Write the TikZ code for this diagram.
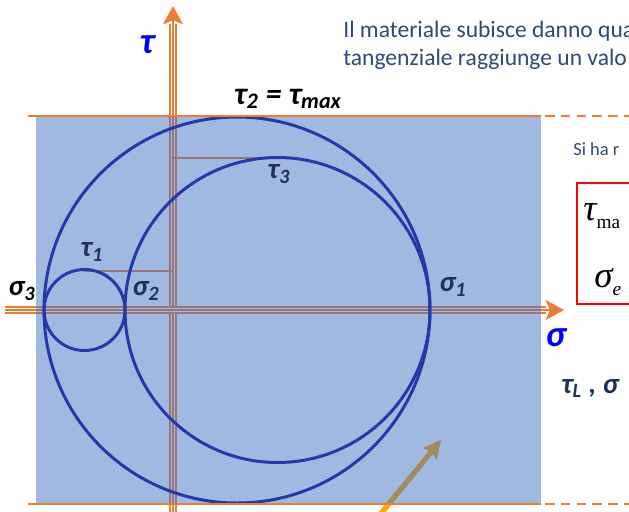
\documentclass[tikz,border=0pt]{standalone}
\usepackage{fontspec}
\setmainfont{Carlito}
\newfontfamily\timesfont{Liberation Serif}
\usetikzlibrary{arrows.meta}
\definecolor{axisorange}{RGB}{237,125,49}
\definecolor{planeblue}{RGB}{68,114,196}
\definecolor{circleblue}{RGB}{36,56,168}
\definecolor{labelnavy}{RGB}{31,50,90}
\definecolor{textslate}{RGB}{47,72,118}
\definecolor{pointerorange}{RGB}{255,165,0}

\tikzset{
  lbl/.style={inner sep=0pt, font=\fontsize{16.5}{16.5}\selectfont\bfseries\itshape},
  axlbl/.style={inner sep=0pt, text=blue, font=\fontsize{21}{21}\selectfont\bfseries\itshape},
  slatetext/.style={inner sep=0pt, anchor=base west, text=textslate},
  mohr/.style={draw=circleblue, line width=1.7pt},
  limitline/.style={draw=axisorange, line width=1.4pt},
  level/.style={draw=axisorange, line width=1.6pt}
}
\newcommand{\tripleaxis}[3]{%
  \draw[axisorange, line width=4pt] (#1) -- (#2);
  \draw[white, line width=2.3pt] (#1) -- (#2);
  \draw[axisorange, line width=0.9pt, -{Stealth[length=10.5pt,width=11.5pt,inset=2.5pt]}] (#1) -- (#3);
}

\begin{document}
\begin{tikzpicture}[x=0.02cm, y=-0.02cm]
    \useasboundingbox (0,0) rectangle (629,511);

    % assi
    \coordinate (taubot)  at (173,520);
    \coordinate (taubase) at (173,24);
    \coordinate (tautip)  at (173,6);
    \coordinate (sigleft) at (5,310);
    \coordinate (sigbase) at (546,310);
    \coordinate (sigtip)  at (564,310);
    \tripleaxis{taubot}{taubase}{tautip}
    \tripleaxis{sigleft}{sigbase}{sigtip}

    % livelli di tau
    \coordinate (t3top) at (277,158);
    \coordinate (t1top) at (84,271);
    \coordinate (t3ax) at (173,158);
    \coordinate (t1ax) at (173,271);
    \draw[level] (t3ax) -- (t3top);
    \draw[level] (t1top) -- (t1ax);

    % freccia
    \coordinate (pstart) at (370,527);
    \coordinate (pend) at (441,440);
    \draw[pointerorange, line width=3pt, -{Stealth[length=10pt,width=10pt,inset=1.5pt]}] (pstart) -- (pend);

    % zona sicura
    \fill[planeblue, fill opacity=0.5] (36,117) rectangle (541,503);

    % cerchi di Mohr
    \draw[mohr] (237,310) circle (193);
    \draw[mohr] (277.5,310) circle (152.5);
    \draw[mohr] (84.5,310) circle (40.5);

    % limiti
    \draw[limitline] (28,116) -- (541,116);
    \draw[limitline, dash pattern=on 5.5pt off 3.5pt] (545,116) -- (640,116);
    \draw[limitline] (28,504) -- (541,504);
    \draw[limitline, dash pattern=on 5.5pt off 3.5pt] (545,504) -- (640,504);

    % etichette
    \node[axlbl] (taulab) at (147,45) {τ};
    \node[axlbl] (siglab) at (556,338) {σ};
    \node[lbl, font=\fontsize{18}{18}\selectfont\bfseries\itshape] (tmaxlab) at (288,99) {τ\textsubscript{2} = τ\textsubscript{max}};
    \node[lbl, text=labelnavy] (t3lab) at (279,174) {τ\textsubscript{3}};
    \node[lbl, text=labelnavy] (t1lab) at (92,252) {τ\textsubscript{1}};
    \node[lbl] (s3lab) at (22,291) {σ\textsubscript{3}};
    \node[lbl, text=labelnavy] (s2lab) at (146,291) {σ\textsubscript{2}};
    \node[lbl, text=labelnavy] (s1lab) at (453,287) {σ\textsubscript{1}};

    % testo a destra
    \node[slatetext, font=\fontsize{13.4}{15}\selectfont] (intro1) at (343,37) {Il materiale subisce danno qua};
    \node[slatetext, font=\fontsize{13.4}{15}\selectfont] (intro2) at (343,65) {tangenziale raggiunge un valo};
    \node[slatetext, font=\fontsize{10.5}{12}\selectfont] (siha) at (573,155) {Si ha r};
    \node[draw=red, line width=1.1pt, minimum width=2cm, minimum height=2.42cm, anchor=north west] (limbox) at (576,182) {};
    \node[inner sep=0pt, anchor=base west] (taumax) at (583,220) {\timesfont\fontsize{21}{21}\selectfont\itshape τ\raisebox{-0.5ex}{\fontsize{11}{11}\selectfont\upshape ma}};
    \node[inner sep=0pt, anchor=base west] (sigeq) at (594,287) {\timesfont\fontsize{21}{21}\selectfont\itshape σ\raisebox{-0.5ex}{\fontsize{11}{11}\selectfont e}};
    \node[lbl, text=labelnavy, anchor=base west] (tlsig) at (561,393) {τ\textsubscript{L} , σ};
\end{tikzpicture}
\end{document}
